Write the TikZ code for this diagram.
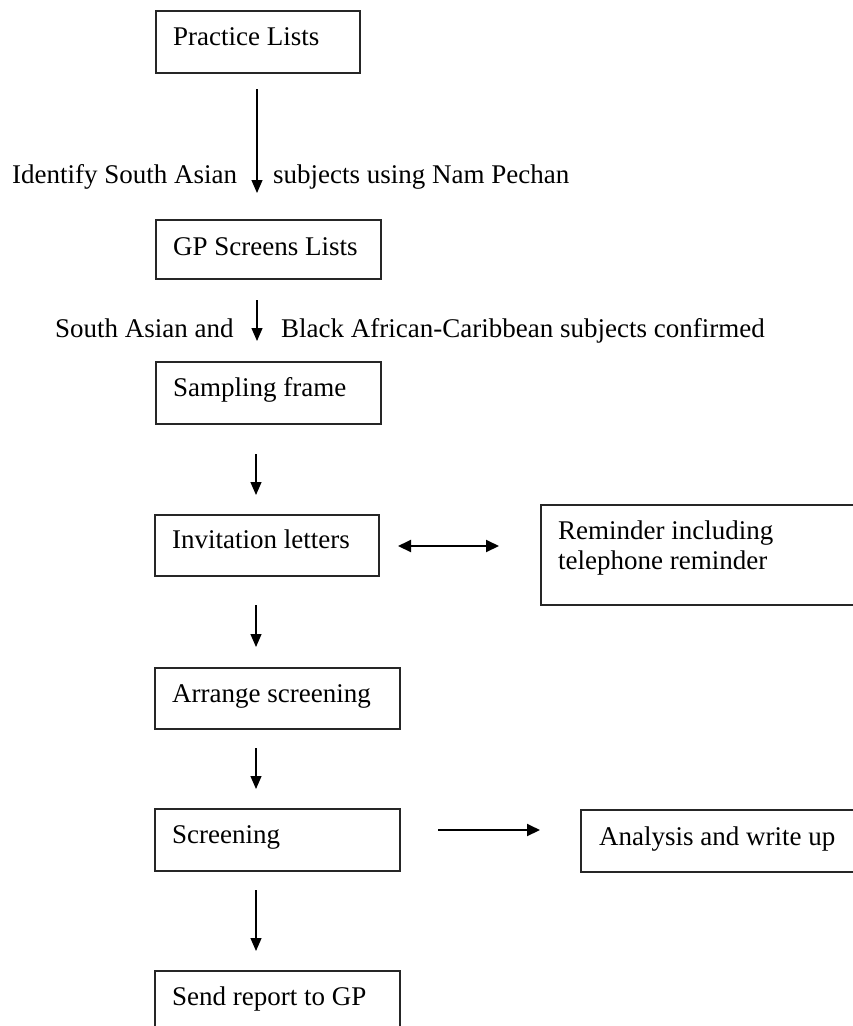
\documentclass[tikz,border=0pt]{standalone}
\usepackage{fontspec}
\setmainfont{Liberation Serif}
\usetikzlibrary{arrows.meta}
\begin{document}
\begin{tikzpicture}[x=1pt,y=-1pt,
  box/.style={draw=black!85,line width=1.6pt,anchor=north west,inner sep=0pt},
  txt/.style={anchor=base west,inner sep=0pt,font=\fontsize{27}{30}\selectfont},
  arr/.style={line width=1.2pt,-{Triangle[length=13pt,width=11pt]}},
  harr/.style={line width=2pt,-{Triangle[length=13pt,width=12pt]}},
  darr/.style={line width=2pt,{Triangle[length=13pt,width=12pt]}-{Triangle[length=13pt,width=12pt]}}]
\useasboundingbox (0,0) rectangle (853,1026);
\clip (0,0) rectangle (853,1026);
\fill[white] (0,0) rectangle (853,1026);
% boxes
\node[box,minimum width=204pt,minimum height=62pt] (practice) at (155,10) {};
\node[box,minimum width=225pt,minimum height=59pt] (gp) at (155,219) {};
\node[box,minimum width=225pt,minimum height=62pt] (sampling) at (155,361) {};
\node[box,minimum width=224pt,minimum height=61pt] (invite) at (154,514) {};
\node[box,minimum width=330pt,minimum height=100pt] (remind) at (540,504) {};
\node[box,minimum width=245pt,minimum height=61pt] (arrange) at (154,667) {};
\node[box,minimum width=245pt,minimum height=62pt] (screen) at (154,808) {};
\node[box,minimum width=290pt,minimum height=62pt] (analysis) at (580,809) {};
\node[box,minimum width=245pt,minimum height=80pt] (report) at (154,970) {};
% texts
\node[txt] (tpractice) at (173,45) {Practice Lists};
\node[txt] (tgp) at (173,255) {GP Screens Lists};
\node[txt] (tsampling) at (173,396) {Sampling frame};
\node[txt] (tinvite) at (172,548) {Invitation letters};
\node[txt] (tremind1) at (558,539) {Reminder including};
\node[txt] (tremind2) at (558,569) {telephone reminder};
\node[txt] (tarrange) at (172,702) {Arrange screening};
\node[txt] (tscreen) at (172,843) {Screening};
\node[txt] (tanalysis) at (599,845) {Analysis and write up};
\node[txt] (treport) at (172,1005) {Send report to GP};
% labels
\node[txt] (l1a) at (12,183) {Identify South Asian};
\node[txt] (l1b) at (273,183) {subjects using Nam Pechan};
\node[txt] (l2a) at (55,337) {South Asian and};
\node[txt] (l2b) at (281,337) {Black African-Caribbean subjects confirmed};
% arrow end points
\coordinate (a1s) at (257,89);  \coordinate (a1e) at (257,193);
\coordinate (a2s) at (257,300); \coordinate (a2e) at (257,341);
\coordinate (a3s) at (256,454); \coordinate (a3e) at (256,495);
\coordinate (a4s) at (256,605); \coordinate (a4e) at (256,647);
\coordinate (a5s) at (256,748); \coordinate (a5e) at (256,789);
\coordinate (a6s) at (256,890); \coordinate (a6e) at (256,951);
\coordinate (ds) at (398,546);  \coordinate (de) at (499,546);
\coordinate (hs) at (438,830);  \coordinate (he) at (540,830);
\draw[arr] (a1s) -- (a1e);
\draw[arr] (a2s) -- (a2e);
\draw[arr] (a3s) -- (a3e);
\draw[arr] (a4s) -- (a4e);
\draw[arr] (a5s) -- (a5e);
\draw[arr] (a6s) -- (a6e);
\draw[darr] (ds) -- (de);
\draw[harr] (hs) -- (he);
\end{tikzpicture}
\end{document}
